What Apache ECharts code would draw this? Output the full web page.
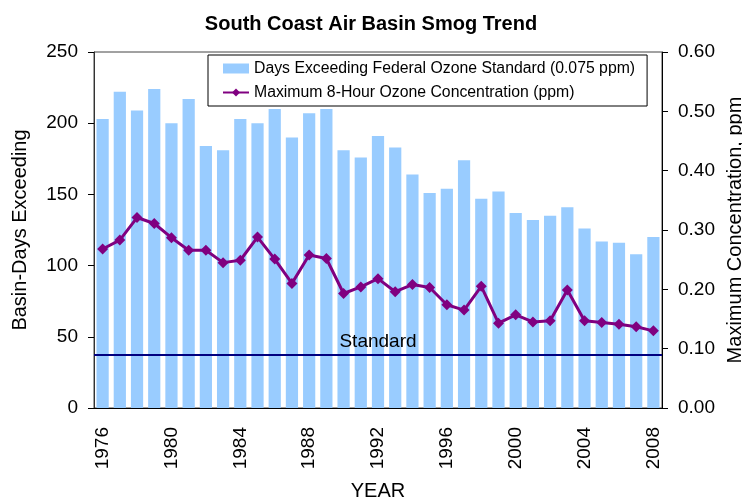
<!DOCTYPE html>
<html>
<head>
<meta charset="utf-8">
<script src="https://cdn.jsdelivr.net/npm/echarts@6/dist/echarts.min.js"></script>
<style>
html, body { margin: 0; padding: 0; background: #fff; }
#chart { width: 742px; height: 500px; }
</style>
</head>
<body>
<div id="chart"></div>
<script>
var years = ['1976','1977','1978','1979','1980','1981','1982','1983','1984','1985','1986',
    '1987','1988','1989','1990','1991','1992','1993','1994','1995','1996','1997',
    '1998','1999','2000','2001','2002','2003','2004','2005','2006','2007','2008'];

// 超标天数
var daysExceeding = [203, 222, 209, 224, 200, 217, 184, 181, 203, 200, 210,
    190, 207, 210, 181, 176, 191, 183, 164, 151, 154, 174,
    147, 152, 137, 132, 135, 141, 126, 117, 116, 108, 120];

// 8小时最大浓度 (ppm)
var maxConc = [0.268, 0.283, 0.321, 0.311, 0.287, 0.266, 0.266, 0.245, 0.249, 0.288, 0.251,
    0.210, 0.258, 0.252, 0.193, 0.204, 0.218, 0.196, 0.208, 0.203, 0.174, 0.165,
    0.205, 0.143, 0.157, 0.145, 0.147, 0.199, 0.147, 0.144, 0.141, 0.137, 0.130];

var standardPpm = 0.09;

var leftTicks = [0, 50, 100, 150, 200, 250];
var rightTicks = [0, 0.1, 0.2, 0.3, 0.4, 0.5, 0.6];

var font = 'Liberation Sans, Arial, sans-serif';

var chart = echarts.init(document.getElementById('chart'));
chart.setOption({
    animation: false,
    textStyle: { fontFamily: font },
    title: {
        text: 'South Coast Air Basin Smog Trend',
        left: 'center',
        top: 9,
        textStyle: { fontSize: 20, fontWeight: 'bold', color: '#000', fontFamily: font }
    },
    legend: {
        orient: 'vertical',
        left: 208,
        top: 55,
        borderColor: '#000',
        borderWidth: 1,
        padding: [5, 12, 5, 14],
        itemGap: 7,
        itemWidth: 26,
        itemHeight: 10,
        textStyle: { fontSize: 15.8, color: '#000', fontFamily: font, lineHeight: 17 },
        data: [
            { name: 'Days Exceeding Federal Ozone Standard (0.075 ppm)', icon: 'rect' },
            { name: 'Maximum 8-Hour Ozone Concentration (ppm)' }
        ]
    },
    grid: {
        left: 94, right: 80, top: 52, bottom: 92,
        outerBoundsMode: 'none',
        show: true, borderColor: '#444', borderWidth: 1
    },
    xAxis: {
        type: 'category',
        data: years,
        name: 'YEAR',
        nameLocation: 'middle',
        nameGap: 73,
        nameTextStyle: { fontSize: 20, color: '#000', fontFamily: font },
        axisLine: { lineStyle: { color: '#000', width: 1 } },
        axisTick: { interval: 3, length: 6, lineStyle: { color: '#000' } },
        axisLabel: { interval: 3, rotate: 90, margin: 19, fontSize: 19, color: '#000', fontFamily: font }
    },
    yAxis: [
        {
            type: 'value',
            min: leftTicks[0],
            max: leftTicks[leftTicks.length - 1],
            interval: 50,
            name: 'Basin-Days Exceeding',
            nameLocation: 'middle',
            nameRotate: 90,
            nameGap: 64,
            nameTextStyle: { fontSize: 20, color: '#000', fontFamily: font },
            axisLine: { show: true, lineStyle: { color: '#333' } },
            axisTick: { show: true, length: 6, lineStyle: { color: '#000' } },
            axisLabel: { margin: 16, fontSize: 19, color: '#000', fontFamily: font },
            splitLine: { show: false }
        },
        {
            type: 'value',
            min: rightTicks[0],
            max: rightTicks[rightTicks.length - 1],
            interval: 0.1,
            position: 'right',
            name: 'Maximum Concentration, ppm',
            nameLocation: 'middle',
            nameRotate: 90,
            nameGap: 61,
            nameTextStyle: { fontSize: 20, color: '#000', fontFamily: font },
            axisLine: { show: true, lineStyle: { color: '#000' } },
            axisTick: { show: true, length: 6, lineStyle: { color: '#000' } },
            axisLabel: {
                margin: 16, fontSize: 19, color: '#000', fontFamily: font,
                formatter: function(v) { return v.toFixed(2); }
            },
            splitLine: { show: false }
        }
    ],
    series: [
        {
            name: 'Days Exceeding Federal Ozone Standard (0.075 ppm)',
            type: 'bar',
            yAxisIndex: 0,
            barCategoryGap: '29%',
            itemStyle: { color: '#99CCFF' },
            data: daysExceeding
        },
        {
            name: 'Maximum 8-Hour Ozone Concentration (ppm)',
            type: 'line',
            yAxisIndex: 1,
            symbol: 'diamond',
            symbolSize: 11,
            lineStyle: { color: '#800080', width: 3 },
            itemStyle: { color: '#800080' },
            data: maxConc,
            markLine: {
                silent: true,
                symbol: 'none',
                lineStyle: { color: '#000080', width: 2, type: 'solid' },
                label: {
                    show: true,
                    position: 'insideMiddleTop',
                    formatter: 'Standard',
                    fontSize: 19,
                    color: '#000',
                    fontFamily: font,
                    distance: 3
                },
                data: [{ yAxis: standardPpm }]
            }
        }
    ]
});
</script>
</body>
</html>
